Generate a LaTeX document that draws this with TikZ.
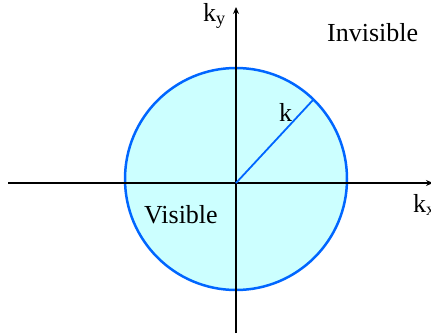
\documentclass[tikz,border=0pt]{standalone}
\usepackage{fontspec}
\setmainfont{Liberation Serif}
\usetikzlibrary{arrows.meta,calc}
\definecolor{fillc}{RGB}{204,255,255}
\definecolor{edgec}{RGB}{0,102,255}
\begin{document}
\begin{tikzpicture}[x=1pt,y=1pt,
  axis/.style={line width=1.3pt,-{Stealth[length=7pt,width=6pt]}},
  lbl/.style={font=\fontsize{26}{30}\selectfont,inner sep=0pt,anchor=base west}]
\useasboundingbox (0,0) rectangle (431,333);
\coordinate (cc) at (236,154);
\coordinate (o) at (236,150);
\draw[fill=fillc,draw=edgec,line width=2.5pt] (cc) circle[radius=111];
\coordinate (xs) at (8,150);
\coordinate (xe) at (433,150);
\coordinate (ys) at (236,0);
\coordinate (ye) at (236,326);
\draw[axis] (xs) -- (xe);
\draw[axis] (ys) -- (ye);
\coordinate (r) at (313,233);
\draw[edgec,line width=1.8pt] (o) -- (r);
\node[lbl] (ky) at (203,312) {k\textsubscript{y}};
\node[lbl] (kx) at (413,121) {k\textsubscript{x}};
\node[lbl] (k) at (279,212) {k};
\node[lbl] (inv) at (327,291) {Invisible};
\node[lbl] (vis) at (144,110) {Visible};
\end{tikzpicture}
\end{document}
